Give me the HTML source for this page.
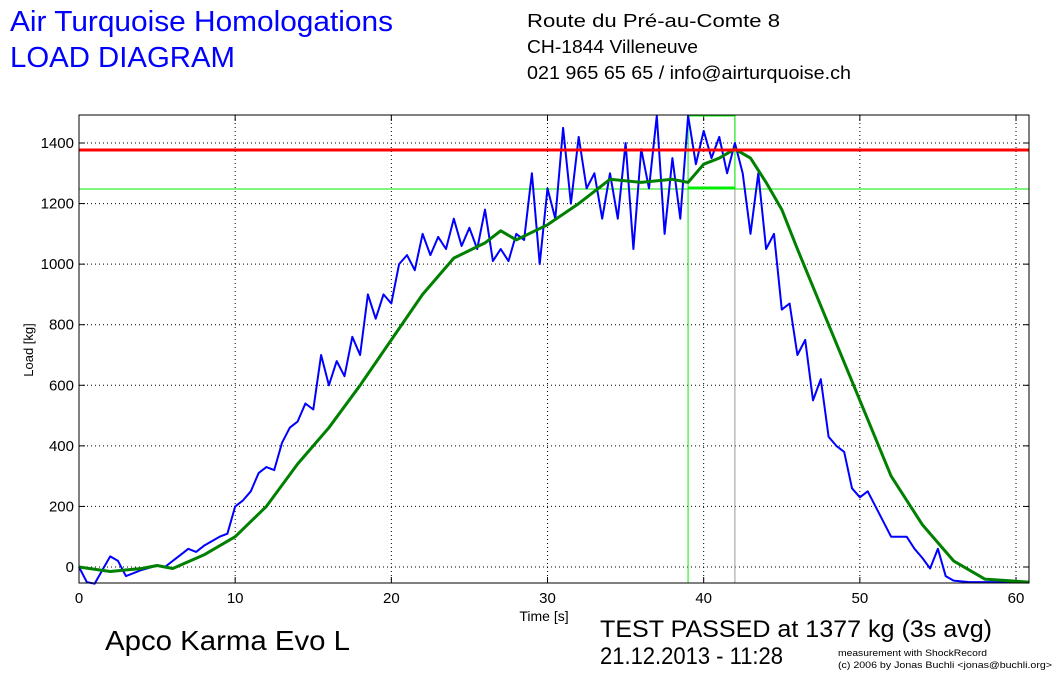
<!DOCTYPE html>
<html><head><meta charset="utf-8"><style>
body{margin:0;background:#fff;width:1055px;height:674px;overflow:hidden;font-family:"Liberation Sans",sans-serif}
</style></head><body>
<svg id="s" width="1055" height="674" xmlns="http://www.w3.org/2000/svg" font-family="Liberation Sans, sans-serif">
<text x="10" y="31" font-size="29" fill="#0000ff" textLength="383" lengthAdjust="spacingAndGlyphs">Air Turquoise Homologations</text>
<text x="10" y="67" font-size="29" fill="#0000ff" textLength="225" lengthAdjust="spacingAndGlyphs">LOAD DIAGRAM</text>
<text x="527" y="27" font-size="18" textLength="253" lengthAdjust="spacingAndGlyphs">Route du Pré-au-Comte 8</text>
<text x="527" y="53" font-size="18" textLength="171" lengthAdjust="spacingAndGlyphs">CH-1844 Villeneuve</text>
<text x="527" y="79" font-size="18" textLength="324" lengthAdjust="spacingAndGlyphs">021 965 65 65 / info@airturquoise.ch</text>
<g id="grid"></g>
<text x="544" y="621" font-size="14" text-anchor="middle">Time [s]</text>
<text transform="translate(33,350) rotate(-90)" font-size="13" text-anchor="middle">Load [kg]</text>
<text x="105" y="650" font-size="28" textLength="245" lengthAdjust="spacingAndGlyphs">Apco Karma Evo L</text>
<text x="600" y="637" font-size="24" textLength="392" lengthAdjust="spacingAndGlyphs">TEST PASSED at 1377 kg (3s avg)</text>
<text x="600" y="664" font-size="24" textLength="183" lengthAdjust="spacingAndGlyphs">21.12.2013 - 11:28</text>
<text x="838" y="656" font-size="9" textLength="149" lengthAdjust="spacingAndGlyphs">measurement with ShockRecord</text>
<text x="838" y="668" font-size="9" textLength="214" lengthAdjust="spacingAndGlyphs">(c) 2006 by Jonas Buchli &lt;jonas@buchli.org&gt;</text>
</svg>
<script>
var s=document.getElementById('s'),g=document.getElementById('grid'),NS='http://www.w3.org/2000/svg';
var L=79,R=1029,T=115,B=583;
function X(t){return 79+t*15.617}
function Y(v){return 567-v*0.30286}
function el(n,a,p){var e=document.createElementNS(NS,n);for(var k in a)e.setAttribute(k,a[k]);(p||s).appendChild(e);return e}
for(var t=0;t<=60;t+=10){var x=X(t);el('line',{x1:x,x2:x,y1:T,y2:B,stroke:'#000','stroke-dasharray':'1,3','stroke-width':1},g);
el('line',{x1:x,x2:x,y1:B,y2:B-6,stroke:'#000'},g);el('line',{x1:x,x2:x,y1:T,y2:T+6,stroke:'#000'},g);
var tx=el('text',{x:x,y:603,'font-size':15,'text-anchor':'middle'},g);tx.textContent=t;}
for(var v=0;v<=1400;v+=200){var y=Y(v);el('line',{x1:L,x2:R,y1:y,y2:y,stroke:'#000','stroke-dasharray':'1,3'},g);
el('line',{x1:L,x2:L+6,y1:y,y2:y,stroke:'#000'},g);el('line',{x1:R,x2:R-6,y1:y,y2:y,stroke:'#000'},g);
var tx=el('text',{x:74,y:y+5,'font-size':15,'text-anchor':'end'},g);tx.textContent=v;}
el('line',{x1:X(42),x2:X(42),y1:T,y2:B,stroke:'#999'});
el('line',{x1:L,x2:R,y1:189,y2:189,stroke:'#00ee00'});
el('line',{x1:X(39),x2:X(39),y1:T,y2:B,stroke:'#00ee00'});
el('line',{x1:X(42),x2:X(42),y1:T,y2:189,stroke:'#00ee00'});
el('line',{x1:X(39),x2:X(42),y1:T+1,y2:T+1,stroke:'#00ee00'});
el('line',{x1:X(39),x2:X(42),y1:188,y2:188,stroke:'#00ee00','stroke-width':3});
var blue=[0,0,.5,-50,1,-55,1.5,-10,2,35,2.5,20,3,-30,3.5,-20,4,-10,5,5,5.5,0,6,20,6.5,40,7,60,7.5,50,8,70,9,100,9.5,110,10,200,10.5,220,11,250,11.5,310,12,330,12.5,320,13,410,13.5,460,14,480,14.5,540,15,520,15.5,700,16,600,16.5,680,17,630,17.5,760,18,700,18.5,900,19,820,19.5,900,20,870,20.5,1000,21,1030,21.5,980,22,1100,22.5,1030,23,1090,23.5,1050,24,1150,24.5,1060,25,1120,25.5,1050,26,1180,26.5,1010,27,1050,27.5,1010,28,1100,28.5,1080,29,1300,29.5,1000,30,1250,30.5,1150,31,1450,31.5,1200,32,1420,32.5,1250,33,1300,33.5,1150,34,1300,34.5,1150,35,1400,35.5,1050,36,1380,36.5,1250,37,1490,37.5,1100,38,1350,38.5,1150,39,1490,39.5,1330,40,1440,40.5,1350,41,1420,41.5,1300,42,1400,42.5,1300,43,1100,43.5,1300,44,1050,44.5,1100,45,850,45.5,870,46,700,46.5,750,47,550,47.5,620,48,430,48.5,400,49,380,49.5,260,50,230,50.5,250,51,200,51.5,150,52,100,53,100,53.5,60,54,30,54.5,-5,55,60,55.5,-30,56,-45,57,-50,60.8,-50];
var green=[0,0,2,-15,4,-5,5,5,6,-5,8,40,10,100,12,200,14,340,16,460,18,600,20,750,22,900,24,1020,26,1070,27,1110,28,1080,30,1130,32,1200,34,1280,36,1270,38,1280,39,1270,40,1330,41,1350,42,1380,43,1350,44,1270,45,1180,46,1050,48,800,50,550,52,300,54,140,56,20,58,-40,60.8,-50];
function pts(a){var r=[];for(var i=0;i<a.length;i+=2)r.push(X(a[i]).toFixed(1)+','+Math.max(T,Y(a[i+1])).toFixed(1));return r.join(' ')}
el('polyline',{points:pts(blue),fill:'none',stroke:'#0000ff','stroke-width':2,'stroke-linejoin':'round'});
el('polyline',{points:pts(green),fill:'none',stroke:'#008000','stroke-width':3,'stroke-linejoin':'round'});
el('line',{x1:L,x2:R,y1:Y(1377),y2:Y(1377),stroke:'#ff0000','stroke-width':3});
el('rect',{x:L,y:T,width:R-L,height:B-T,fill:'none',stroke:'#000'});
</script>
</body></html>
